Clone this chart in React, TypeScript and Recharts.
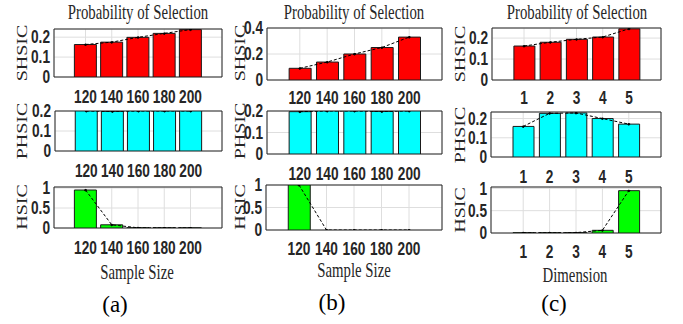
import React from 'react';
import { ComposedChart, Bar, Line, XAxis, YAxis, CartesianGrid, ReferenceArea } from 'recharts';

// ---------- data ----------
const sampleSizes = [120, 140, 160, 180, 200];
const dimensions = [1, 2, 3, 4, 5];

const aShsic = [0.163, 0.175, 0.199, 0.219, 0.238];
const aPhsic = [0.2, 0.198, 0.2, 0.2, 0.2];
const aHsic = [0.95, 0.08, 0.005, 0.002, 0.002];

const bShsic = [0.09, 0.138, 0.2, 0.25, 0.33];
const bPhsic = [0.197, 0.2, 0.2, 0.198, 0.2];
const bHsic = [1, 0, 0, 0, 0];

const cShsic = [0.162, 0.18, 0.194, 0.205, 0.244];
const cPhsic = [0.159, 0.227, 0.229, 0.2, 0.171];
const cHsic = [0.006, 0.005, 0.008, 0.06, 0.948];

const ticksSmall = [0, 0.1, 0.2];
const ticksB = [0, 0.2, 0.4];
const ticksHsic = [0, 0.5, 1];

const titleText = 'Probability of Selection';
const rowLabels = ['SHSIC', 'PHSIC', 'HSIC'];
const xTitles = ['Sample Size', 'Sample Size', 'Dimension'];
const captions = ['(a)', '(b)', '(c)'];

const RED = '#ff0000';
const CYAN = '#00ffff';
const GREEN = '#00ff00';

const SANS = '"Liberation Sans", Arial, sans-serif';
const SERIF = '"Liberation Serif", "Times New Roman", serif';

type PanelProps = {
  L: number; R: number; T: number; B: number;
  xs: number[]; ys: number[];
  xDomain: [number, number]; yDomain: [number, number];
  yTicks: number[]; color: string; labelY: number; barSize: number;
};

const fmt = (v: number) => String(v);
const TOP = 12;

function Panel(p: PanelProps) {
  const data = p.xs.map((x, i) => ({ x, v: p.ys[i] }));
  const w = 50 + (p.R - p.L) + 4;
  const h = TOP + (p.B - p.T) + 34;
  const tickY = p.labelY - (p.T - TOP);
  const XTick = (props: any) => (
    <text
      transform={`translate(${props.x},${tickY}) scale(0.76,1)`}
      textAnchor="middle"
      dominantBaseline="central"
      fontFamily={SANS}
      fontWeight="bold"
      fontSize={18}
      fill="#262626"
    >
      {fmt(props.payload.value)}
    </text>
  );
  const YTick = (props: any) => (
    <text
      transform={`translate(46,${props.y}) scale(0.76,1)`}
      textAnchor="end"
      dominantBaseline="central"
      fontFamily={SANS}
      fontWeight="bold"
      fontSize={18}
      fill="#262626"
    >
      {fmt(props.payload.value)}
    </text>
  );
  return (
    <div style={{ position: 'absolute', left: p.L - 50, top: p.T - TOP }}>
      <ComposedChart width={w} height={h} data={data} margin={{ top: TOP, right: 4, bottom: 0, left: 0 }}>
        <CartesianGrid stroke="#dedede" strokeWidth={1} />
        <XAxis
          dataKey="x"
          type="number"
          domain={p.xDomain}
          ticks={p.xs}
          interval={0}
          axisLine={false}
          tickLine={false}
          height={34}
          tick={XTick}
          allowDataOverflow
        />
        <YAxis
          type="number"
          domain={p.yDomain}
          ticks={p.yTicks}
          interval={0}
          axisLine={false}
          tickLine={false}
          width={50}
          tick={YTick}
          allowDataOverflow
        />
        <Bar dataKey="v" fill={p.color} stroke="#1a1a1a" strokeWidth={1} barSize={p.barSize} isAnimationActive={false} />
        <Line
          dataKey="v"
          type="linear"
          stroke="#000"
          strokeWidth={1}
          strokeDasharray="3 2"
          dot={{ r: 1, fill: '#000', stroke: '#000' }}
          activeDot={false}
          isAnimationActive={false}
        />
        <ReferenceArea
          x1={p.xDomain[0]}
          x2={p.xDomain[1]}
          y1={p.yDomain[0]}
          y2={p.yDomain[1]}
          fill="none"
          fillOpacity={0}
          stroke="#262626"
          strokeWidth={1}
          ifOverflow="visible"
        />
      </ComposedChart>
    </div>
  );
}

const sDom: [number, number] = [96, 224];
const dDom: [number, number] = [-0.22, 6.22];

const panels: PanelProps[] = [
  { L: 54, R: 222, T: 29, B: 77, xs: sampleSizes, ys: aShsic, xDomain: sDom, yDomain: [0, 0.241], yTicks: ticksSmall, color: RED, labelY: 97, barSize: 22 },
  { L: 55, R: 222, T: 111, B: 151, xs: sampleSizes, ys: aPhsic, xDomain: sDom, yDomain: [0, 0.2], yTicks: ticksSmall, color: CYAN, labelY: 171, barSize: 22 },
  { L: 54, R: 222, T: 187, B: 228, xs: sampleSizes, ys: aHsic, xDomain: sDom, yDomain: [0, 1.025], yTicks: ticksHsic, color: GREEN, labelY: 248, barSize: 22 },

  { L: 267, R: 442, T: 28, B: 80, xs: sampleSizes, ys: bShsic, xDomain: sDom, yDomain: [0, 0.4], yTicks: ticksB, color: RED, labelY: 98, barSize: 22 },
  { L: 267, R: 442, T: 111, B: 154, xs: sampleSizes, ys: bPhsic, xDomain: sDom, yDomain: [0, 0.2], yTicks: ticksSmall, color: CYAN, labelY: 174, barSize: 22 },
  { L: 266, R: 442, T: 185, B: 230, xs: sampleSizes, ys: bHsic, xDomain: sDom, yDomain: [0, 1], yTicks: ticksHsic, color: GREEN, labelY: 249, barSize: 22 },

  { L: 492, R: 661, T: 28, B: 80, xs: dimensions, ys: cShsic, xDomain: dDom, yDomain: [0, 0.248], yTicks: ticksSmall, color: RED, labelY: 98, barSize: 21 },
  { L: 491, R: 661, T: 112, B: 157, xs: dimensions, ys: cPhsic, xDomain: dDom, yDomain: [0, 0.234], yTicks: ticksSmall, color: CYAN, labelY: 177, barSize: 21 },
  { L: 491, R: 661, T: 187, B: 233, xs: dimensions, ys: cHsic, xDomain: dDom, yDomain: [0, 1.03], yTicks: ticksHsic, color: GREEN, labelY: 252, barSize: 21 },
];

const titlePos = [{ x: 138, y: 12 }, { x: 354, y: 12 }, { x: 577, y: 12 }];
const yLabelX = [22, 240, 460];
const yLabelY = [53, 131, 207];
const yLabelYc = [54, 135, 210];
const xTitlePos = [{ x: 137, y: 272 }, { x: 354, y: 270 }, { x: 575, y: 275 }];
const captionPos = [{ x: 115, y: 304 }, { x: 332, y: 302 }, { x: 554, y: 303 }];

export default function App() {
  return (
    <div style={{ position: 'absolute', left: 0, top: 0, width: 683, height: 324, background: '#fff', overflow: 'hidden' }}>
      {panels.map((p, i) => (
        <Panel key={i} {...p} />
      ))}
      <svg width={683} height={324} style={{ position: 'absolute', left: 0, top: 0, pointerEvents: 'none' }}>
        {titlePos.map((t, i) => (
          <text key={'t' + i} transform={`translate(${t.x},${t.y}) scale(0.74,1)`} textAnchor="middle" dominantBaseline="central" fontFamily={SERIF} fontSize={20} fill="#262626">
            {titleText}
          </text>
        ))}
        {yLabelX.map((x, c) =>
          rowLabels.map((lab, r) => {
            const y = c === 2 ? yLabelYc[r] : yLabelY[r];
            return (
              <text key={'y' + c + r} transform={`translate(${x},${y}) scale(0.75,1) rotate(-90)`} textAnchor="middle" dominantBaseline="central" fontFamily={SERIF} fontSize={20} fill="#262626">
                {lab}
              </text>
            );
          })
        )}
        {xTitlePos.map((t, i) => (
          <text key={'x' + i} transform={`translate(${t.x},${t.y}) scale(0.74,1)`} textAnchor="middle" dominantBaseline="central" fontFamily={SERIF} fontSize={20} fill="#262626">
            {xTitles[i]}
          </text>
        ))}
        {captionPos.map((t, i) => (
          <text key={'c' + i} x={t.x} y={t.y} textAnchor="middle" dominantBaseline="central" fontFamily={SERIF} fontSize={23} fill="#000">
            {captions[i]}
          </text>
        ))}
      </svg>
    </div>
  );
}
